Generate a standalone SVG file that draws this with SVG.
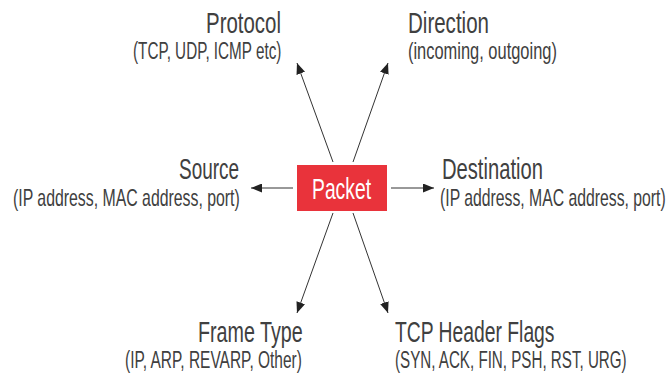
<svg xmlns="http://www.w3.org/2000/svg" width="671" height="375" viewBox="0 0 671 375">
  <style>
    text { font-family: "Liberation Sans", Arial, sans-serif; fill: #404040; }
    .t { font-size: 29px; }
    .s { font-size: 24px; }
    .pk { font-size: 29px; fill: #ffffff; }
    .c { stroke: #333333; stroke-width: 1; fill: none; marker-end: url(#ah); }
  </style>
  <defs>
    <marker id="ah" markerUnits="userSpaceOnUse" markerWidth="11" markerHeight="9" refX="11" refY="4.5" orient="auto">
      <path d="M0,0 L11,4.5 L0,9 Z" fill="#222222"/>
    </marker>
  </defs>
  <rect width="671" height="375" fill="#ffffff"/>

  <g id="connectors">
    <line class="c" x1="293" y1="188" x2="251" y2="188"/>
    <line class="c" x1="391" y1="188" x2="434" y2="188"/>
    <line class="c" x1="333" y1="162" x2="297" y2="63"/>
    <line class="c" x1="353" y1="162" x2="388" y2="63"/>
    <line class="c" x1="333" y1="213" x2="297" y2="313"/>
    <line class="c" x1="353" y1="213" x2="388" y2="313"/>
  </g>

  <g id="packet">
    <rect x="297" y="165" width="90" height="46" fill="#e9333b"/>
    <text class="pk" transform="translate(312,199) scale(0.666,1)">Packet</text>
  </g>

  <g id="protocol">
    <text class="t" transform="translate(206,33) scale(0.705,1)">Protocol</text>
    <text class="s" transform="translate(133,59) scale(0.636,1)">(TCP, UDP, ICMP etc)</text>
  </g>

  <g id="direction">
    <text class="t" transform="translate(408,33) scale(0.708,1)">Direction</text>
    <text class="s" transform="translate(408,59) scale(0.685,1)">(incoming, outgoing)</text>
  </g>

  <g id="source">
    <text class="t" transform="translate(179,179) scale(0.653,1)">Source</text>
    <text class="s" transform="translate(13,206) scale(0.66,1)">(IP address, MAC address, port)</text>
  </g>

  <g id="destination">
    <text class="t" transform="translate(442,179) scale(0.696,1)">Destination</text>
    <text class="s" transform="translate(440,206) scale(0.657,1)">(IP address, MAC address, port)</text>
  </g>

  <g id="frame-type">
    <text class="t" transform="translate(198,342) scale(0.68,1)">Frame Type</text>
    <text class="s" transform="translate(125,368) scale(0.645,1)">(IP, ARP, REVARP, Other)</text>
  </g>

  <g id="tcp-header-flags">
    <text class="t" transform="translate(395,342) scale(0.666,1)">TCP Header Flags</text>
    <text class="s" transform="translate(395,368) scale(0.632,1)">(SYN, ACK, FIN, PSH, RST, URG)</text>
  </g>
</svg>
